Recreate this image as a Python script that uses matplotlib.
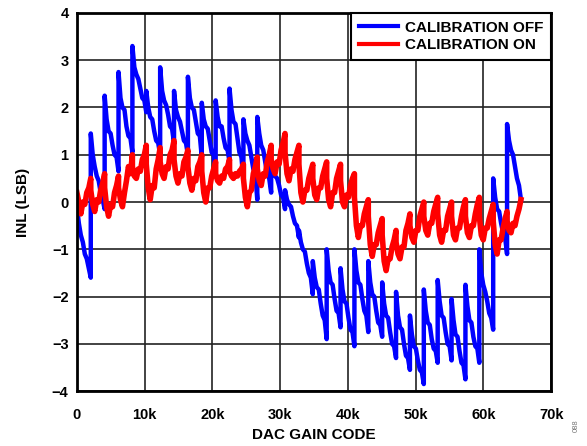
import numpy as np
import matplotlib
matplotlib.use("Agg")
import matplotlib.pyplot as plt

# one row per 2048-code segment, samples at the offsets below
cycle_start = np.arange(0, 65536, 2048)
offsets = [0, 290, 580, 880, 1170, 1460, 1760, 2047]

blue_inl = [
    [-0.1, -0.45, -0.7, -0.85, -1.1, -1.2, -1.4, -1.6],
    [1.45, 1.0, 0.75, 0.55, 0.45, 0.2, 0.05, -0.15],
    [2.25, 1.75, 1.5, 1.45, 1.2, 1.0, 0.95, 0.65],
    [2.75, 2.2, 2.0, 1.95, 1.6, 1.4, 1.35, 1.05],
    [3.3, 2.85, 2.7, 2.6, 2.4, 2.2, 2.15, 1.9],
    [2.35, 2.0, 1.8, 1.75, 1.5, 1.3, 1.25, 1.0],
    [2.85, 2.35, 2.15, 2.05, 1.85, 1.6, 1.55, 1.25],
    [2.35, 1.95, 1.8, 1.7, 1.5, 1.3, 1.25, 1.0],
    [2.65, 2.2, 2.0, 1.95, 1.7, 1.45, 1.4, 0.95],
    [2.1, 1.75, 1.6, 1.55, 1.3, 1.05, 1.0, 0.6],
    [2.15, 1.8, 1.6, 1.6, 1.35, 1.15, 1.1, 0.85],
    [2.4, 1.95, 1.7, 1.65, 1.35, 1.05, 0.95, 0.45],
    [1.75, 1.45, 1.3, 1.2, 0.95, 0.7, 0.6, 0.05],
    [1.8, 1.45, 1.2, 1.1, 0.85, 0.6, 0.5, 0.2],
    [0.85, 0.65, 0.55, 0.5, 0.35, 0.15, 0.1, -0.15],
    [0.25, 0.05, -0.05, -0.1, -0.3, -0.45, -0.5, -0.75],
    [-0.6, -0.85, -1.0, -1.05, -1.3, -1.5, -1.6, -1.95],
    [-1.25, -1.6, -1.8, -1.85, -2.15, -2.4, -2.5, -2.9],
    [-1.0, -1.45, -1.7, -1.75, -2.05, -2.3, -2.35, -2.65],
    [-1.4, -1.85, -2.1, -2.15, -2.45, -2.7, -2.75, -3.05],
    [-1.0, -1.45, -1.7, -1.75, -2.05, -2.3, -2.4, -2.75],
    [-1.25, -1.7, -1.95, -2.0, -2.3, -2.55, -2.6, -2.85],
    [-1.7, -2.15, -2.4, -2.45, -2.75, -3.0, -3.05, -3.3],
    [-1.9, -2.4, -2.65, -2.7, -3.0, -3.25, -3.3, -3.55],
    [-2.4, -2.8, -3.05, -3.1, -3.35, -3.55, -3.6, -3.85],
    [-1.85, -2.3, -2.55, -2.6, -2.9, -3.1, -3.15, -3.4],
    [-1.65, -2.1, -2.4, -2.45, -2.75, -3.0, -3.05, -3.35],
    [-2.05, -2.5, -2.8, -2.85, -3.15, -3.4, -3.45, -3.75],
    [-1.75, -2.2, -2.5, -2.55, -2.85, -3.05, -3.1, -3.4],
    [-1.0, -1.5, -1.75, -1.9, -2.1, -2.35, -2.45, -2.7],
    [0.5, 0.1, -0.15, -0.2, -0.45, -0.65, -0.75, -1.1],
    [1.65, 1.3, 1.1, 1.0, 0.75, 0.5, 0.35, 0.05],
]

red_inl = [
    [0.2, 0.0, -0.25, 0.0, -0.05, 0.2, 0.3, 0.5],
    [0.25, -0.05, -0.2, 0.05, 0.0, 0.25, 0.4, 0.6],
    [0.3, -0.1, -0.3, -0.05, -0.1, 0.2, 0.35, 0.55],
    [0.3, 0.05, -0.1, 0.2, 0.45, 0.75, 0.6, 1.0],
    [0.75, 0.55, 0.5, 0.7, 0.65, 0.9, 1.0, 1.2],
    [0.8, 0.3, 0.05, 0.35, 0.3, 0.7, 0.9, 1.15],
    [0.85, 0.6, 0.5, 0.75, 0.7, 1.0, 1.1, 1.3],
    [0.9, 0.55, 0.4, 0.6, 0.55, 0.85, 0.95, 1.1],
    [0.75, 0.4, 0.25, 0.5, 0.45, 0.75, 0.85, 1.0],
    [0.65, 0.2, 0.0, 0.3, 0.3, 0.55, 0.7, 0.85],
    [0.6, 0.45, 0.4, 0.55, 0.5, 0.7, 0.75, 0.9],
    [0.65, 0.55, 0.5, 0.6, 0.55, 0.65, 0.7, 0.8],
    [0.5, 0.1, -0.1, 0.2, 0.25, 0.6, 0.75, 0.95],
    [0.7, 0.45, 0.35, 0.6, 0.55, 0.85, 1.0, 1.2],
    [0.9, 0.7, 0.6, 0.85, 0.8, 1.1, 1.25, 1.45],
    [1.05, 0.6, 0.45, 0.7, 0.65, 0.9, 1.05, 1.2],
    [0.8, 0.2, 0.0, 0.25, 0.25, 0.5, 0.65, 0.8],
    [0.5, 0.15, 0.05, 0.3, 0.3, 0.55, 0.7, 0.85],
    [0.5, 0.05, -0.1, 0.2, 0.2, 0.5, 0.65, 0.8],
    [0.45, 0.0, -0.1, 0.15, 0.1, 0.35, 0.5, 0.6],
    [0.1, -0.5, -0.75, -0.5, -0.5, -0.25, -0.1, 0.05],
    [-0.3, -0.9, -1.15, -0.9, -0.9, -0.65, -0.5, -0.35],
    [-0.7, -1.25, -1.45, -1.2, -1.2, -0.95, -0.8, -0.6],
    [-0.85, -1.1, -1.2, -0.95, -0.95, -0.6, -0.45, -0.25],
    [-0.5, -0.75, -0.85, -0.6, -0.6, -0.3, -0.15, 0.0],
    [-0.3, -0.6, -0.7, -0.45, -0.45, -0.2, -0.05, 0.1],
    [-0.25, -0.7, -0.85, -0.6, -0.6, -0.3, -0.15, 0.0],
    [-0.3, -0.7, -0.8, -0.55, -0.55, -0.3, -0.1, 0.05],
    [-0.3, -0.65, -0.75, -0.5, -0.5, -0.25, -0.05, 0.1],
    [-0.3, -0.7, -0.8, -0.55, -0.55, -0.35, -0.2, -0.05],
    [-0.4, -0.9, -1.1, -0.8, -0.8, -0.55, -0.35, -0.2],
    [-0.4, -0.6, -0.65, -0.45, -0.5, -0.3, -0.15, 0.05],
]

x_ticks = [0, 10000, 20000, 30000, 40000, 50000, 60000, 70000]
x_labels = ["0", "10k", "20k", "30k", "40k", "50k", "60k", "70k"]
y_ticks = [-4, -3, -2, -1, 0, 1, 2, 3, 4]

plt.rcParams["font.family"] = ["Liberation Sans", "DejaVu Sans"]
plt.rcParams["font.weight"] = "bold"

codes = (cycle_start[:, None] + np.array(offsets)[None, :]).ravel()
blue = np.array(blue_inl).ravel()
red = np.array(red_inl).ravel()

fig = plt.figure(figsize=(5.87, 4.46), dpi=100)
ax = fig.add_axes([0.131, 0.123, 0.808, 0.848])

ax.plot(codes, blue, color="#0000ff", linewidth=3.2, label="CALIBRATION OFF",
        solid_joinstyle="round", zorder=3)
ax.plot(codes, red, color="#ff0000", linewidth=4.0, label="CALIBRATION ON",
        solid_joinstyle="round", zorder=4)

ax.set_xlim(0, 70000)
ax.set_ylim(-4, 4)
ax.set_xticks(x_ticks)
ax.set_xticklabels(x_labels)
ax.set_yticks(y_ticks)
ax.tick_params(axis="both", length=0, labelsize=10.5)
ax.tick_params(axis="x", pad=12)
ax.tick_params(axis="y", pad=6)
ax.grid(True, color="#222222", linewidth=1.2, zorder=1)
ax.set_axisbelow(True)
for s in ax.spines.values():
    s.set_linewidth(2)
    s.set_zorder(6)

ax.set_xlabel("DAC GAIN CODE", fontsize=11, fontweight="bold", va="center")
ax.set_ylabel("INL (LSB)", fontsize=11, fontweight="bold", va="center")
ax.xaxis.set_label_coords(0.5, -0.116)
ax.yaxis.set_label_coords(-0.113, 0.5)

leg = ax.legend(loc="upper right", bbox_to_anchor=(1.0, 1.0), borderaxespad=0,
                fancybox=False, framealpha=1, edgecolor="black", fontsize=11,
                handlelength=2.6, handletextpad=0.45, borderpad=0.5,
                labelspacing=0.25)
leg.get_frame().set_linewidth(1.5)
leg.set_zorder(7)
for line in leg.get_lines():
    line.set_linewidth(3)

fig.text(0.982, 0.045, "088", rotation=90, fontsize=5.5, color="#777777",
         fontweight="normal", ha="center", va="center")

fig.savefig("out.png", dpi=100)
